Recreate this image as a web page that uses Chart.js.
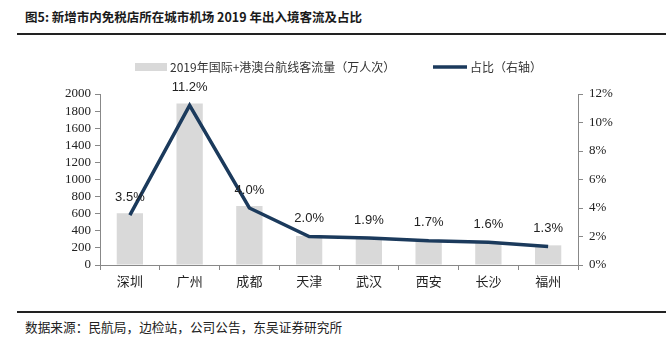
<!DOCTYPE html>
<html>
<head>
<meta charset="utf-8">
<script src="https://cdn.jsdelivr.net/npm/chart.js@4/dist/chart.umd.min.js"></script>
<style>
  body { margin: 0; background: #fff; width: 666px; height: 344px; position: relative; overflow: hidden; }
  #title { position: absolute; left: 25px; top: 7px; font: bold 12.5px "Noto Sans CJK SC", sans-serif; color: #1a1a1a; }
  .rule { position: absolute; left: 17px; right: 0; height: 2px; background: #222; }
  #foot { position: absolute; left: 25px; top: 317px; font: 12.7px "Noto Sans CJK SC", sans-serif; color: #222; }
  #box { position: absolute; left: 0; top: 40px; width: 666px; height: 260px; }
</style>
</head>
<body>
<div id="title">图5: 新增市内免税店所在城市机场 2019 年出入境客流及占比</div>
<div class="rule" style="top:33px"></div>
<div id="box"><canvas id="c"></canvas></div>
<div class="rule" style="top:311px"></div>
<div id="foot">数据来源：民航局，边检站，公司公告，东吴证券研究所</div>
<script>
var cities = ['深圳', '广州', '成都', '天津', '武汉', '西安', '长沙', '福州'];
var flow = [605, 1890, 690, 340, 320, 290, 270, 230];
var share = [3.5, 11.2, 4.0, 2.0, 1.9, 1.7, 1.6, 1.3];
var barLabel = '2019年国际+港澳台航线客流量（万人次）';
var lineLabel = '占比（右轴）';

var navy = '#1b3a5c';
var barGray = '#d9d9d9';

var ctx1 = document.getElementById('c');

// legend + % labels drawn by hand
var extras = {
  id: 'extras',
  afterDatasetsDraw: function(chart){
    var g = chart.ctx;
    g.save();
    g.fillStyle = '#222';
    g.font = '13px "Liberation Sans", Arial, sans-serif';
    g.textAlign = 'center';
    g.textBaseline = 'middle';
    var pts = chart.getDatasetMeta(0).data;
    pts.forEach(function(p, i){
      g.fillText(share[i].toFixed(1) + '%', p.x, p.y - 18);
    });
    // legend
    g.fillStyle = barGray;
    g.fillRect(135, 23, 32, 8);
    g.fillStyle = '#333';
    g.font = '12px "Noto Sans CJK SC", sans-serif';
    g.textAlign = 'left';
    g.fillText(barLabel, 170, 27);
    g.strokeStyle = navy;
    g.lineWidth = 3.5;
    g.beginPath();
    g.moveTo(433, 27);
    g.lineTo(467, 27);
    g.stroke();
    g.fillText(lineLabel, 470, 27);
    g.restore();
  }
};

var serif = { family: '"Liberation Serif", "Times New Roman", serif', size: 13 };

var myChart1 = new Chart(ctx1, {
  type: 'bar',
  data: {
    labels: cities,
    datasets: [{
      type: 'line',
      label: lineLabel,
      data: share,
      yAxisID: 'y1',
      borderColor: navy,
      borderWidth: 3.5,
      pointRadius: 0,
      tension: 0,
      order: 0
    }, {
      label: barLabel,
      data: flow,
      yAxisID: 'y',
      backgroundColor: barGray,
      categoryPercentage: 1,
      barPercentage: 0.44,
      order: 1
    }]
  },
  options: {
    animation: false,
    responsive: true,
    maintainAspectRatio: false,
    layout: { padding: { top: 54, left: 0, right: 0, bottom: 0 } },
    plugins: { legend: { display: false }, tooltip: { enabled: false } },
    scales: {
      x: {
        offset: true,
        grid: { display: true, drawOnChartArea: false, drawTicks: true, tickLength: 5, color: '#888', offset: true },
        border: { color: '#888' },
        ticks: { color: '#222', padding: 3, font: { family: '"Noto Sans CJK SC", sans-serif', size: 13 } },
        afterFit: function(s){ s.height = 35; }
      },
      y: {
        position: 'left',
        min: 0, max: 2000,
        ticks: { stepSize: 200, autoSkip: false, color: '#222', padding: 4, font: serif,
          callback: function(v){ return String(v); } },
        grid: { drawOnChartArea: false, drawTicks: true, tickLength: 5, color: '#888' },
        border: { color: '#888' },
        afterFit: function(s){ s.width = 100; }
      },
      y1: {
        position: 'right',
        min: 0, max: 12,
        ticks: { stepSize: 2, autoSkip: false, color: '#222', padding: 6, font: serif,
          callback: function(v){ return v + '%'; } },
        grid: { drawOnChartArea: false, drawTicks: true, tickLength: 5, color: '#888' },
        border: { color: '#888' },
        afterFit: function(s){ s.width = 88; }
      }
    }
  },
  plugins: [extras]
});
</script>
</body>
</html>
